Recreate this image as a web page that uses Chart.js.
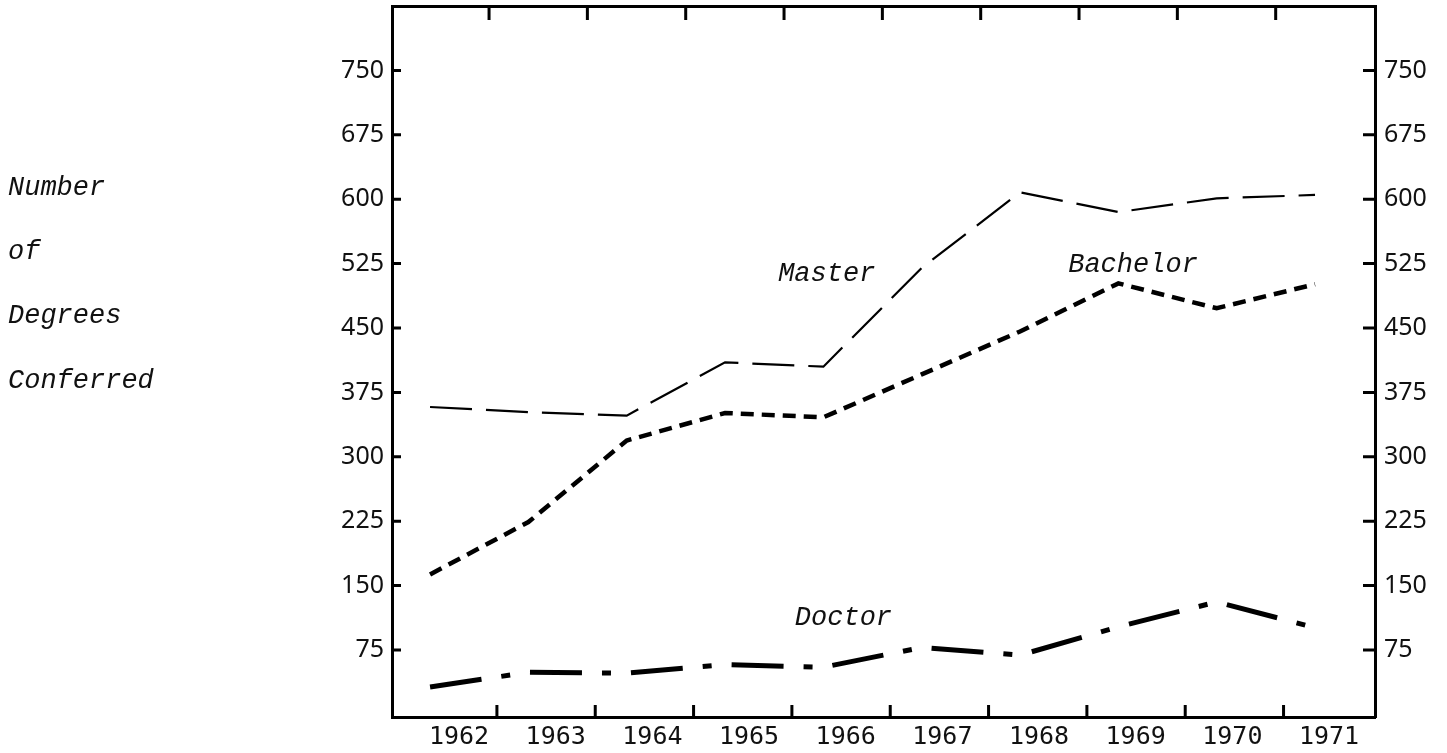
<!DOCTYPE html>
<html>
<head>
<meta charset="utf-8">
<script src="https://cdn.jsdelivr.net/npm/chart.js@4.4.0/dist/chart.umd.min.js"></script>
<style>
html,body{margin:0;padding:0;background:#fff;}
#wrap{width:1447px;height:753px;position:relative;}
</style>
</head>
<body>
<div id="wrap"><canvas id="c" width="1447" height="753"></canvas></div>
<script>
// ---- data ----
const years = ['1962','1963','1964','1965','1966','1967','1968','1969','1970','1971'];
const master   = [358, 352, 348, 410, 405, 520, 608, 585, 601, 605];
const bachelor = [163, 224, 319, 351, 346, 396, 446, 502, 473, 501];
const doctor   = [32, 49, 48, 58, 55, 78, 69, 102, 131, 101];
const yTicks = [75, 150, 225, 300, 375, 450, 525, 600, 675, 750];
const seriesNames = ['Master', 'Bachelor', 'Doctor'];
const axisTitle = ['Number', 'of', 'Degrees', 'Conferred'];

// ---- layout / style (not data) ----
const X_MIN = -0.387, X_MAX = 9.61, Y_MIN = -3, Y_MAX = 825;
const INK = '#111';
const labelFont = 'italic 27px "Liberation Mono"';
// label anchors in data units (left edge x, baseline y)
const seriesLabelAt = [[3.54, 505], [6.49, 515], [3.71, 104]];

const toPts = arr => arr.map((v, i) => ({x: i, y: v}));

const noPad = s => { s.paddingTop = 0; s.paddingBottom = 0; s.paddingLeft = 0; s.paddingRight = 0; };

const frameTicks = {
  id: 'frameTicks',
  afterDraw(chart) {
    const {ctx, chartArea: a, scales} = chart;
    const x = scales.x, y = scales.y;
    ctx.save();
    ctx.strokeStyle = '#000';
    ctx.lineWidth = 3;
    ctx.beginPath();
    for (let i = 0; i < years.length - 1; i++) {
      const pt = x.getPixelForValue(i + 0.6);
      ctx.moveTo(pt, a.top); ctx.lineTo(pt, a.top + 14);
      const pb = x.getPixelForValue(i + 0.68);
      ctx.moveTo(pb, a.bottom); ctx.lineTo(pb, a.bottom - 12);
    }
    yTicks.forEach(v => {
      const py = y.getPixelForValue(v);
      ctx.moveTo(a.left, py); ctx.lineTo(a.left + 9, py);
      ctx.moveTo(a.right, py); ctx.lineTo(a.right - 12, py);
    });
    ctx.stroke();

    ctx.fillStyle = INK;
    ctx.font = labelFont;
    ctx.textAlign = 'left';
    ctx.textBaseline = 'alphabetic';
    seriesNames.forEach((n, i) => {
      const [lx, ly] = seriesLabelAt[i];
      ctx.fillText(n, x.getPixelForValue(lx), y.getPixelForValue(ly));
    });
    const baselines = [195, 259, 323, 388];
    axisTitle.forEach((t, i) => ctx.fillText(t, 8, baselines[i]));
    ctx.restore();
  }
};

const commonY = {
  type: 'linear', min: Y_MIN, max: Y_MAX,
  afterBuildTicks: s => { s.ticks = yTicks.map(v => ({value: v})); },
  grid: {display: true, drawOnChartArea: false, drawTicks: false},
  border: {display: true, width: 3, color: '#000'}
};

new Chart(document.getElementById('c'), {
  type: 'line',
  data: {
    datasets: [
      {label: seriesNames[0], data: toPts(master), borderColor: '#000', borderWidth: 2.2,
       borderDash: [42, 14], pointRadius: 0, fill: false, tension: 0},
      {label: seriesNames[1], data: toPts(bachelor), borderColor: '#000', borderWidth: 4.5,
       borderDash: [13, 8], pointRadius: 0, fill: false, tension: 0},
      {label: seriesNames[2], data: toPts(doctor), borderColor: '#000', borderWidth: 5,
       borderDash: [52, 20, 9, 20], pointRadius: 0, fill: false, tension: 0}
    ]
  },
  options: {
    responsive: false, animation: false, devicePixelRatio: 1,
    layout: {padding: {top: 6, left: 0, right: 0, bottom: 0}},
    plugins: {legend: {display: false}, tooltip: {enabled: false}},
    scales: {
      x: {
        type: 'linear', position: 'bottom', min: X_MIN, max: X_MAX,
        afterBuildTicks: s => { s.ticks = years.map((_, i) => ({value: 0.295 + i * 0.983})); },
        ticks: {callback: (v, i) => years[i], font: {family: 'DejaVu Sans Mono', size: 25},
                color: INK, padding: 5, maxRotation: 0, autoSkip: false},
        grid: {display: true, drawOnChartArea: false, drawTicks: false},
        border: {display: true, width: 3, color: '#000'},
        afterFit: s => { s.height = 36; noPad(s); }
      },
      x2: {
        type: 'linear', position: 'top', min: X_MIN, max: X_MAX,
        ticks: {display: false},
        grid: {display: true, drawOnChartArea: false, drawTicks: false},
        border: {display: true, width: 3, color: '#000'},
        afterFit: s => { s.height = 0; noPad(s); }
      },
      y: Object.assign({}, commonY, {
        position: 'left',
        ticks: {font: {family: 'Noto Sans', size: 25}, color: INK, padding: 8},
        afterFit: s => { s.width = 392; noPad(s); }
      }),
      y2: Object.assign({}, commonY, {
        position: 'right',
        ticks: {font: {family: 'Noto Sans', size: 25}, color: INK, padding: 9},
        afterFit: s => { s.width = 72; noPad(s); }
      })
    }
  },
  plugins: [frameTicks]
});
</script>
</body>
</html>
